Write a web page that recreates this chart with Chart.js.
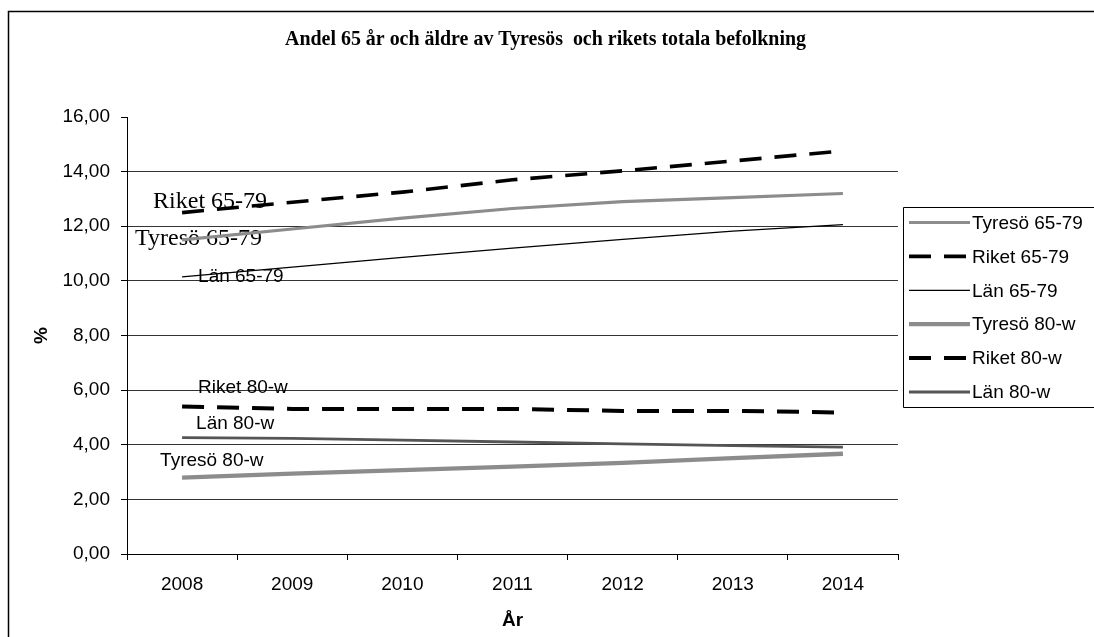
<!DOCTYPE html>
<html>
<head>
<meta charset="utf-8">
<script src="https://cdn.jsdelivr.net/npm/chart.js@4/dist/chart.umd.min.js"></script>
<style>
  html, body { margin: 0; padding: 0; background: #fff; overflow: hidden; }
  #wrap { width: 1094px; height: 637px; }
</style>
</head>
<body>
<div id="wrap"><canvas id="chart"></canvas></div>
<script>
// data
const years = ['2008', '2009', '2010', '2011', '2012', '2013', '2014'];
const tyreso6579 = [11.5, 11.9, 12.3, 12.65, 12.9, 13.05, 13.2];
const riket6579 = [12.5, 12.88, 13.25, 13.7, 14.03, 14.39, 14.76];
const lan6579 = [10.15, 10.5, 10.86, 11.2, 11.52, 11.82, 12.06];
const tyreso80w = [2.8, 2.94, 3.07, 3.2, 3.34, 3.51, 3.67];
const riket80w = [5.4, 5.31, 5.31, 5.31, 5.24, 5.24, 5.18];
const lan80w = [4.26, 4.23, 4.17, 4.1, 4.03, 3.97, 3.91];

const titleText = 'Andel 65 år och äldre av Tyresös  och rikets totala befolkning';

const SANS = '"Liberation Sans", Arial, sans-serif';
const SERIF = '"Liberation Serif", "Times New Roman", serif';

// labels written next to the first point of each line (offset from that point)
const inlineLabels = [
  { text: 'Tyresö 65-79', dx: -47, dy: 5, font: '24px ' + SERIF },
  { text: 'Riket 65-79', dx: -29, dy: -5, font: '24px ' + SERIF },
  { text: 'Län 65-79', dx: 16, dy: 5, font: '19px ' + SANS },
  { text: 'Tyresö 80-w', dx: -22, dy: -12, font: '19px ' + SANS },
  { text: 'Riket 80-w', dx: 16, dy: -14, font: '19px ' + SANS },
  { text: 'Län 80-w', dx: 14, dy: -9, font: '19px ' + SANS }
];

// frame (only top and left edges are on the page) + title
const framePlugin = {
  id: 'frame',
  beforeDraw(chart) {
    const ctx = chart.ctx;
    ctx.save();
    ctx.fillStyle = '#fff';
    ctx.fillRect(0, 0, chart.width, chart.height);
    ctx.strokeStyle = '#000';
    ctx.lineWidth = 1.5;
    ctx.beginPath();
    ctx.moveTo(8.5, chart.height + 5);
    ctx.lineTo(8.5, 11.5);
    ctx.lineTo(chart.width + 5, 11.5);
    ctx.stroke();
    ctx.restore();
  },
  afterDraw(chart) {
    const ctx = chart.ctx;
    ctx.save();
    ctx.font = 'bold 21px ' + SERIF;
    ctx.fillStyle = '#000';
    ctx.textBaseline = 'alphabetic';
    ctx.textAlign = 'left';
    const w = ctx.measureText(titleText).width;
    const sx = 521 / w;
    ctx.translate(285, 45);
    ctx.scale(sx, 1);
    ctx.fillText(titleText, 0, 0);
    ctx.restore();
  }
};

const inlineLabelPlugin = {
  id: 'inlineLabels',
  beforeDatasetsDraw(chart) {
    const ctx = chart.ctx;
    ctx.save();
    ctx.fillStyle = '#000';
    ctx.textBaseline = 'alphabetic';
    ctx.textAlign = 'left';
    chart.data.datasets.forEach((ds, i) => {
      const lab = inlineLabels[i];
      const pt = chart.getDatasetMeta(i).data[0];
      if (!lab || !pt) return;
      ctx.font = lab.font;
      ctx.fillText(lab.text, pt.x + lab.dx, pt.y + lab.dy);
    });
    ctx.restore();
  }
};

// legend in a box at the right, cut by the page edge like the original
const boxLegendPlugin = {
  id: 'boxLegend',
  afterDraw(chart) {
    const ctx = chart.ctx;
    const left = 903.5, top = 207.5, bottom = 407.5;
    ctx.save();
    ctx.strokeStyle = '#000';
    ctx.lineWidth = 1;
    ctx.beginPath();
    ctx.moveTo(chart.width + 5, top);
    ctx.lineTo(left, top);
    ctx.lineTo(left, bottom);
    ctx.lineTo(chart.width + 5, bottom);
    ctx.stroke();
    ctx.font = '19px ' + SANS;
    ctx.fillStyle = '#000';
    ctx.textBaseline = 'middle';
    ctx.textAlign = 'left';
    chart.data.datasets.forEach((ds, i) => {
      const y = 222.5 + i * 33.9;
      ctx.save();
      ctx.strokeStyle = ds.borderColor;
      ctx.lineWidth = ds.borderWidth;
      ctx.setLineDash(ds.borderDash || []);
      ctx.beginPath();
      ctx.moveTo(909, y);
      ctx.lineTo(970, y);
      ctx.stroke();
      ctx.restore();
      ctx.fillText(ds.label, 972, y + 1);
    });
    ctx.restore();
  }
};

const data = {
  labels: years,
  datasets: [
    { label: 'Tyresö 65-79', data: tyreso6579, borderColor: '#8c8c8c', borderWidth: 3.2 },
    { label: 'Riket 65-79', data: riket6579, borderColor: '#000', borderWidth: 3.6, borderDash: [22, 13] },
    { label: 'Län 65-79', data: lan6579, borderColor: '#000', borderWidth: 1.3 },
    { label: 'Tyresö 80-w', data: tyreso80w, borderColor: '#8c8c8c', borderWidth: 4.3 },
    { label: 'Riket 80-w', data: riket80w, borderColor: '#000', borderWidth: 4, borderDash: [22, 13] },
    { label: 'Län 80-w', data: lan80w, borderColor: '#555', borderWidth: 2.8 }
  ]
};
data.datasets.forEach(ds => {
  ds.pointRadius = 0;
  ds.pointHoverRadius = 0;
  ds.tension = 0;
  ds.fill = false;
  ds.borderCapStyle = 'butt';
});

new Chart(document.getElementById('chart'), {
  type: 'line',
  data: data,
  plugins: [framePlugin, inlineLabelPlugin, boxLegendPlugin],
  options: {
    responsive: true,
    maintainAspectRatio: false,
    animation: false,
    layout: { padding: { left: 8, top: 117, right: 196, bottom: 0 } },
    plugins: {
      legend: { display: false },
      title: { display: false },
      tooltip: { enabled: false }
    },
    scales: {
      x: {
        offset: true,
        grid: {
          offset: true,
          drawOnChartArea: false,
          tickLength: 6,
          tickColor: '#000',
          tickWidth: 1
        },
        border: { display: true, color: '#000', width: 1 },
        ticks: {
          color: '#000',
          font: { family: SANS, size: 19 },
          padding: 13,
          maxRotation: 0
        },
        title: {
          display: true,
          text: 'År',
          color: '#000',
          font: { family: SANS, size: 19, weight: 'bold' },
          padding: { top: 0, bottom: 5 }
        },
        afterFit(scale) { scale.height = 83; }
      },
      y: {
        min: 0,
        max: 16,
        grid: {
          color: (c) => (c.tick && (c.tick.value === 16 || c.tick.value === 0)) ? 'rgba(0,0,0,0)' : '#333',
          lineWidth: 1,
          tickLength: 6,
          tickColor: '#000',
          tickWidth: 1
        },
        border: { display: true, color: '#000', width: 1 },
        ticks: {
          stepSize: 2,
          color: '#000',
          font: { family: SANS, size: 19 },
          padding: 11,
          callback: (v) => v.toFixed(2).replace('.', ',')
        },
        title: {
          display: true,
          text: '%',
          color: '#000',
          font: { family: SANS, size: 19, weight: 'bold' },
          padding: { top: 22, bottom: 0 }
        },
        afterFit(scale) { scale.width = 119; }
      }
    }
  }
});
</script>
</body>
</html>
